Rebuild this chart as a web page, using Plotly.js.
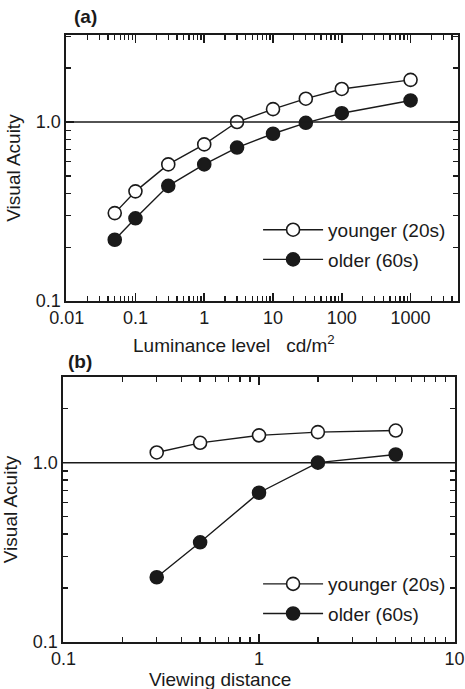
<!DOCTYPE html>
<html>
<head>
<meta charset="utf-8">
<script src="https://cdn.plot.ly/plotly-3.0.1.min.js"></script>
<style>html,body{margin:0;padding:0;background:#fff;}#chart{width:465px;height:689px;}</style>
</head>
<body>
<div id="chart"></div>
<script>
// Panel (a): luminance level (cd/m2) vs visual acuity
const luminance = [0.05, 0.1, 0.3, 1, 3, 10, 30, 100, 1000];
const acuityYoungerA = [0.31, 0.41, 0.58, 0.75, 1.0, 1.18, 1.35, 1.53, 1.72];
const acuityOlderA = [0.22, 0.29, 0.44, 0.58, 0.72, 0.86, 0.99, 1.12, 1.32];

// Panel (b): viewing distance vs visual acuity
const distance = [0.3, 0.5, 1, 2, 5];
const acuityYoungerB = [1.14, 1.29, 1.42, 1.48, 1.51];
const acuityOlderB = [0.23, 0.36, 0.68, 1.0, 1.11];

const seriesNames = ["younger (20s)", "older (60s)"];
const panelLabels = ["(a)", "(b)"];
const xTitles = ["Luminance level&nbsp;&nbsp;&nbsp;cd/m<sup>2</sup>", "Viewing distance"];
const yTitle = "Visual Acuity";

const INK = "#1a1a1a";
const FONT = {family: "Liberation Sans, Arial, sans-serif", size: 19, color: INK};
const TICKFONT = {family: "Liberation Sans, Arial, sans-serif", size: 18, color: INK};

function series(x, y, name, filled, xa, ya, legend, group) {
  return {
    x: x, y: y, name: name, type: "scatter", mode: "lines+markers",
    xaxis: xa, yaxis: ya, legend: legend, legendgroup: group,
    line: {color: INK, width: 1.4},
    marker: {symbol: "circle", size: 13, color: filled ? INK : "#ffffff",
             line: {color: INK, width: 1.6}},
    cliponaxis: false
  };
}

const data = [
  series(luminance, acuityYoungerA, seriesNames[0], false, "x", "y", "legend", "a1"),
  series(luminance, acuityOlderA, seriesNames[1], true, "x", "y", "legend", "a2"),
  series(distance, acuityYoungerB, seriesNames[0], false, "x2", "y2", "legend2", "b1"),
  series(distance, acuityOlderB, seriesNames[1], true, "x2", "y2", "legend2", "b2")
];

// log-axis minor tick positions (2..9 in each decade)
function logMinor(fromExp, toExp) {
  const v = [];
  for (let e = fromExp; e <= toExp; e++) {
    for (let m = 2; m <= 9; m++) v.push(+(m * Math.pow(10, e)).toPrecision(3));
  }
  return v;
}

function minorOpts(fromExp, toExp) {
  return {ticks: "inside", ticklen: 5, tickwidth: 1.3, tickcolor: INK, showgrid: false,
          tickmode: "array", tickvals: logMinor(fromExp, toExp)};
}

function xAxis(domain, range, anchor, minorFrom, minorTo) {
  return {
    type: "log", domain: domain, range: range, anchor: anchor,
    showgrid: false, zeroline: false,
    showline: true, linecolor: INK, linewidth: 1.6, mirror: "ticks",
    ticks: "inside", ticklen: 8, tickwidth: 1.5, tickcolor: INK,
    dtick: 1, exponentformat: "none",
    minor: minorOpts(minorFrom, minorTo),
    tickfont: TICKFONT
  };
}
function yAxis(domain, range, anchor) {
  return {
    type: "log", domain: domain, range: range, anchor: anchor,
    showgrid: false, zeroline: false,
    showline: true, linecolor: INK, linewidth: 1.6, mirror: "ticks",
    ticks: "inside", ticklen: 8, tickwidth: 1.5, tickcolor: INK,
    dtick: 1, tickformat: ".1f",
    minor: minorOpts(-1, 0),
    tickfont: TICKFONT,
    title: {text: yTitle, font: FONT, standoff: 10}
  };
}

function legendBox(y) {
  return {
    x: 0.555, xanchor: "left", y: y, yanchor: "top",
    bgcolor: "rgba(0,0,0,0)", borderwidth: 0,
    font: FONT, itemwidth: 60, traceorder: "grouped", tracegroupgap: 2,
    itemclick: false
  };
}

const layout = {
  width: 465, height: 689,
  margin: {l: 0, r: 0, t: 0, b: 0},
  paper_bgcolor: "#ffffff", plot_bgcolor: "#ffffff",
  font: FONT,
  showlegend: true,
  xaxis: xAxis([0.1419, 0.985], [-2.01, 3.69], "y", -2, 3),
  yaxis: yAxis([0.563, 0.9492], [-1, 0.486], "x"),
  xaxis2: xAxis([0.1355, 0.9785], [-1.002, 1.002], "y2", -1, 0),
  yaxis2: yAxis([0.068, 0.453], [-1, 0.478], "x2"),
  legend: legendBox(0.694),
  legend2: legendBox(0.180),
  shapes: [
    {type: "line", xref: "x domain", yref: "y", x0: 0, x1: 1, y0: 1, y1: 1,
     line: {color: INK, width: 1.5}},
    {type: "line", xref: "x2 domain", yref: "y2", x0: 0, x1: 1, y0: 1, y1: 1,
     line: {color: INK, width: 1.5}}
  ],
  annotations: [
    {text: "<b>" + panelLabels[0] + "</b>", xref: "paper", yref: "paper",
     x: 72 / 465, y: 1 - 17 / 689, xanchor: "left", yanchor: "middle",
     showarrow: false, font: FONT},
    {text: "<b>" + panelLabels[1] + "</b>", xref: "paper", yref: "paper",
     x: 66 / 465, y: 1 - 361 / 689, xanchor: "left", yanchor: "middle",
     showarrow: false, font: FONT},
    {text: xTitles[0], xref: "paper", yref: "paper",
     x: 234 / 465, y: 1 - 344 / 689, xanchor: "center", yanchor: "middle",
     showarrow: false, font: FONT},
    {text: xTitles[1], xref: "paper", yref: "paper",
     x: 220 / 465, y: 1 - 679 / 689, xanchor: "center", yanchor: "middle",
     showarrow: false, font: FONT}
  ]
};

Plotly.newPlot("chart", data, layout, {staticPlot: true, displayModeBar: false});
</script>
</body>
</html>
